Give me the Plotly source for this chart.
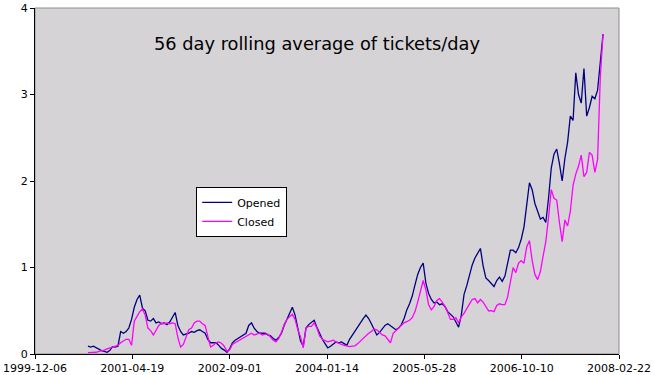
import pandas as pd
import plotly.graph_objects as go

# sample dates: one value every 14 days
start_date = "2000-09-03"
step = "14D"

opened = [
    0.09, 0.08, 0.09, 0.07, 0.06, 0.04, 0.03, 0.02, 0.04, 0.085,
    0.08, 0.09, 0.26, 0.24, 0.26, 0.30, 0.40, 0.54, 0.63, 0.68,
    0.53, 0.50, 0.39, 0.38, 0.41, 0.36, 0.37, 0.35, 0.36, 0.34,
    0.37, 0.42, 0.48, 0.33, 0.26, 0.22, 0.23, 0.24, 0.26, 0.25,
    0.27, 0.28, 0.26, 0.24, 0.17, 0.13, 0.13, 0.13, 0.10, 0.065,
    0.045, 0.02, 0.06, 0.13, 0.16, 0.18, 0.20, 0.21, 0.24, 0.33,
    0.36, 0.30, 0.26, 0.24, 0.24, 0.24, 0.22, 0.21, 0.18, 0.16,
    0.19, 0.24, 0.33, 0.40, 0.48, 0.54, 0.45, 0.28, 0.15, 0.09,
    0.30, 0.34, 0.37, 0.39, 0.31, 0.23, 0.17, 0.12, 0.07, 0.09,
    0.12, 0.14, 0.13, 0.14, 0.12, 0.10, 0.17, 0.22, 0.27, 0.31,
    0.37, 0.41, 0.45, 0.41, 0.35, 0.29, 0.22, 0.25, 0.29, 0.33,
    0.35, 0.33, 0.30, 0.28, 0.30, 0.34, 0.41, 0.51, 0.58, 0.67,
    0.80, 0.92, 1.00, 1.05, 0.82, 0.70, 0.63, 0.59, 0.60, 0.57,
    0.58, 0.55, 0.49, 0.46, 0.43, 0.37, 0.31, 0.45, 0.69, 0.79,
    0.91, 1.03, 1.11, 1.17, 1.22, 1.02, 0.88, 0.85, 0.82, 0.78,
    0.85, 0.89, 0.84, 0.90, 1.05, 1.20, 1.20, 1.17, 1.23, 1.33,
    1.47, 1.72, 1.98, 1.90, 1.74, 1.65, 1.56, 1.58, 1.52, 1.80,
    2.15, 2.31, 2.37, 2.20, 2.00, 2.26, 2.45, 2.75, 2.70, 3.25,
    3.00, 2.90, 3.30, 2.75, 2.85, 2.98, 2.95, 3.05, 3.40, 3.70,
]

closed = [
    0.015, 0.015, 0.02, 0.02, 0.03, 0.035, 0.045, 0.06, 0.07, 0.08,
    0.09, 0.10, 0.13, 0.15, 0.17, 0.17, 0.10, 0.38, 0.44, 0.49,
    0.52, 0.45, 0.30, 0.27, 0.22, 0.27, 0.33, 0.355, 0.35, 0.36,
    0.35, 0.36, 0.35, 0.19, 0.08, 0.11, 0.19, 0.28, 0.30, 0.36,
    0.38, 0.38, 0.35, 0.33, 0.20, 0.08, 0.10, 0.13, 0.14, 0.125,
    0.09, 0.03, 0.05, 0.11, 0.13, 0.15, 0.16, 0.18, 0.20, 0.22,
    0.24, 0.22, 0.23, 0.24, 0.22, 0.23, 0.23, 0.19, 0.16, 0.14,
    0.18, 0.25, 0.34, 0.40, 0.43, 0.46, 0.40, 0.28, 0.20, 0.07,
    0.30, 0.32, 0.32, 0.36, 0.30, 0.21, 0.17, 0.15, 0.14, 0.15,
    0.16, 0.14, 0.12, 0.11, 0.10, 0.09, 0.085, 0.09, 0.095, 0.12,
    0.15, 0.18, 0.22, 0.24, 0.26, 0.29, 0.28, 0.25, 0.22, 0.21,
    0.17, 0.13, 0.24, 0.27, 0.29, 0.32, 0.36, 0.375, 0.39, 0.42,
    0.49, 0.60, 0.73, 0.85, 0.74, 0.57, 0.51, 0.55, 0.62, 0.64,
    0.60, 0.55, 0.48, 0.40, 0.40, 0.42, 0.36, 0.43, 0.47, 0.53,
    0.58, 0.63, 0.64, 0.59, 0.63, 0.60, 0.55, 0.50, 0.50, 0.49,
    0.56, 0.58, 0.57, 0.57, 0.66, 0.81, 1.00, 0.94, 1.05, 1.08,
    1.05, 1.24, 1.31, 1.08, 0.92, 0.86, 0.95, 1.13, 1.30, 1.58,
    1.90, 1.80, 1.78, 1.52, 1.30, 1.55, 1.48, 1.65, 1.95, 2.08,
    2.17, 2.30, 2.05, 2.10, 2.33, 2.30, 2.10, 2.25, 3.20, 3.70,
]

tick_labels = ["1999-12-06", "2001-04-19", "2002-09-01", "2004-01-14",
               "2005-05-28", "2006-10-10", "2008-02-22"]
y_ticks = [0, 1, 2, 3, 4]
title_text = "56 day rolling average of tickets/day"

dates = pd.date_range(start_date, periods=len(opened), freq=step)

fig = go.Figure()
fig.add_trace(go.Scatter(x=dates, y=opened, mode="lines", name="Opened",
                         line=dict(color="#000080", width=1.3)))
fig.add_trace(go.Scatter(x=dates, y=closed, mode="lines", name="Closed",
                         line=dict(color="#ff00ff", width=1.3)))

font_family = "DejaVu Sans"
fig.update_layout(
    width=654, height=375,
    margin=dict(l=35, r=35, t=8, b=21, pad=0, autoexpand=False),
    paper_bgcolor="white",
    plot_bgcolor="rgb(214,211,214)",
    font=dict(family=font_family, size=11, color="black"),
    showlegend=True,
    legend=dict(x=0.276, y=0.483, xanchor="left", yanchor="top",
                bgcolor="white", bordercolor="black", borderwidth=1,
                font=dict(size=11, family=font_family), itemwidth=30,
                tracegroupgap=0),
    xaxis=dict(type="date", range=[tick_labels[0], tick_labels[-1]],
               tickvals=tick_labels, ticktext=tick_labels, automargin=False,
               showgrid=False, zeroline=False, showline=True,
               linecolor="black", linewidth=1,
               ticks="outside", ticklen=4, tickcolor="black",
               tickfont=dict(size=11)),
    yaxis=dict(range=[0, 4], tickvals=y_ticks, automargin=False,
               showgrid=False, zeroline=False, showline=True,
               linecolor="black", linewidth=1,
               ticks="outside", ticklen=4, tickcolor="black",
               tickfont=dict(size=11)),
    shapes=[dict(type="rect", xref="paper", yref="paper", x0=0, x1=1, y0=0, y1=1,
                 line=dict(color="#8c8c8c", width=1), layer="below")],
    annotations=[dict(text=title_text, xref="paper", yref="paper",
                      x=0.483, y=0.896, xanchor="center", yanchor="middle",
                      showarrow=False, font=dict(size=17.8, family=font_family,
                                                 color="black"))],
)

fig.write_html("out.html",
               config={"displayModeBar": False},
               post_script="document.body.style.margin='0px';")
